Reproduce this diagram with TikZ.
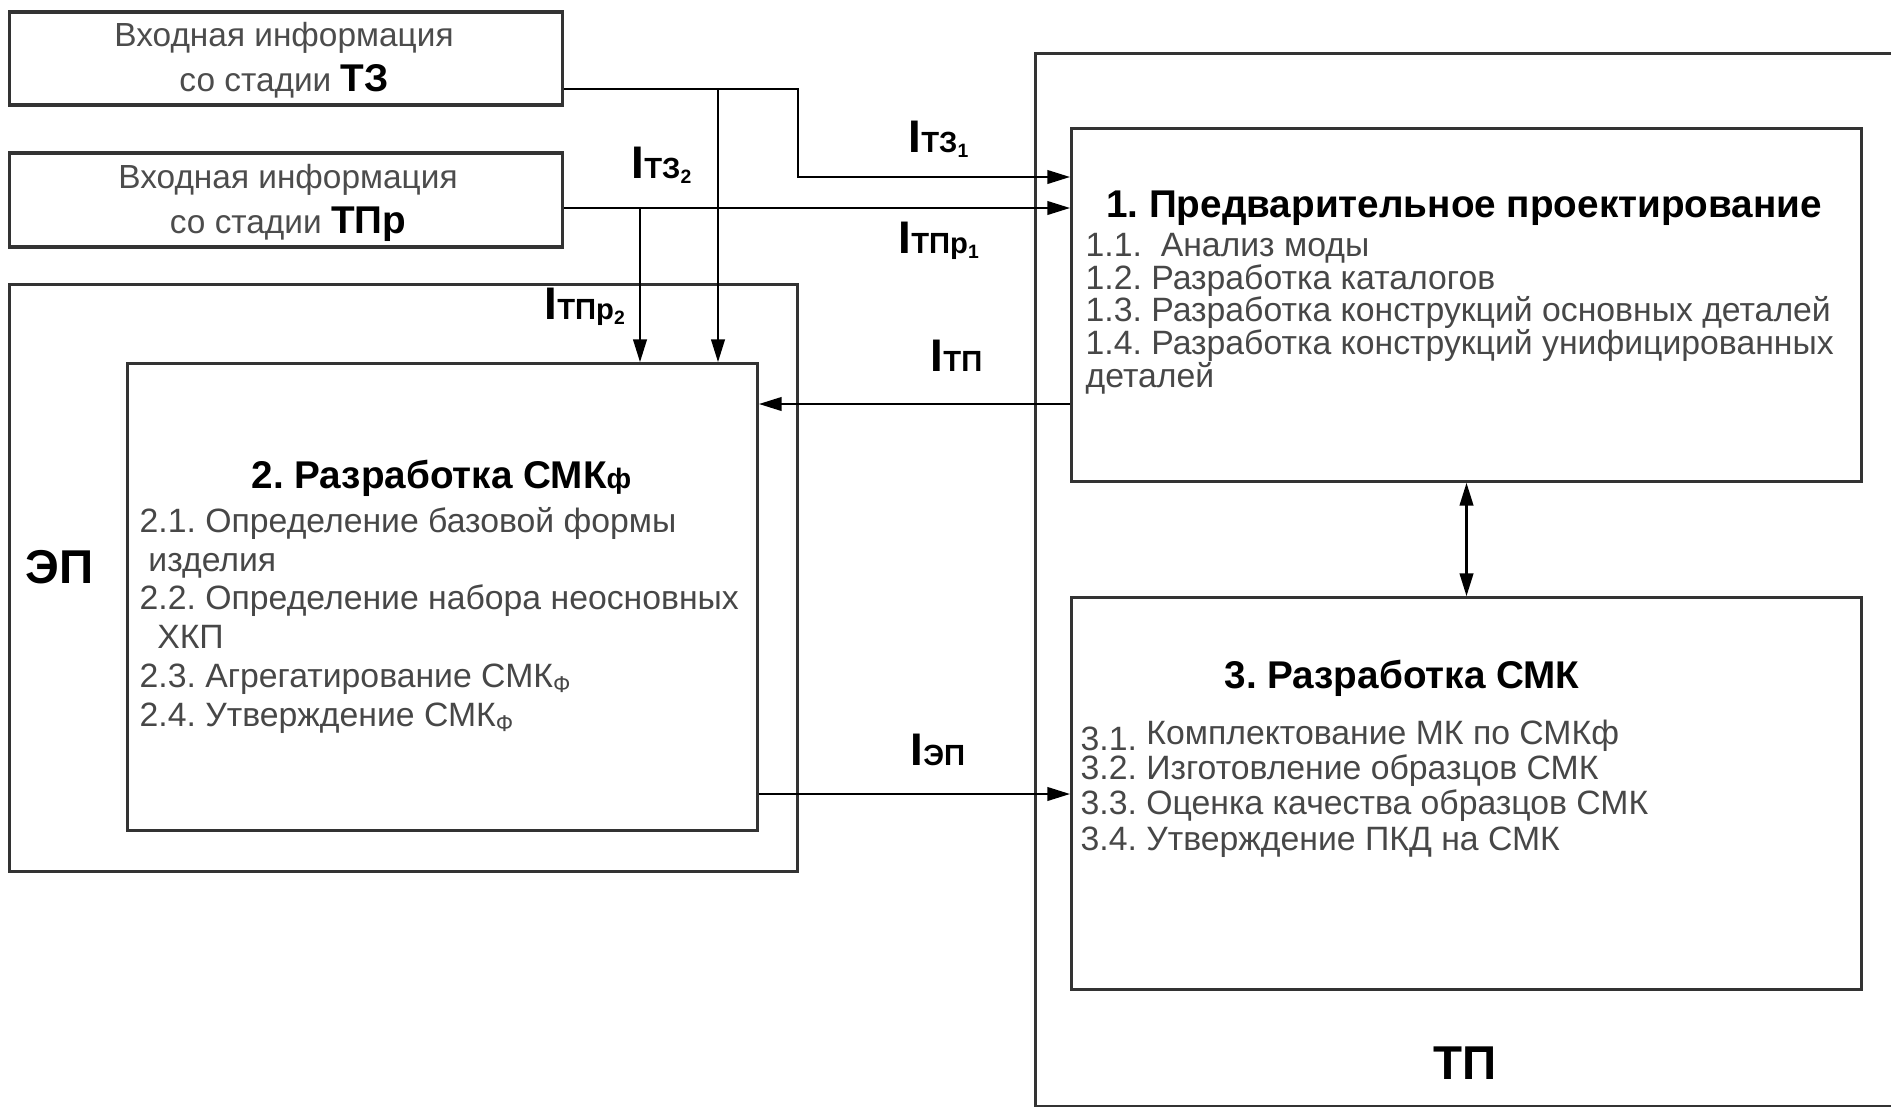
\documentclass[tikz,border=0pt]{standalone}
\usepackage{fontspec}
\setmainfont{Liberation Sans}
\usetikzlibrary{arrows.meta,calc}
\frenchspacing

% information flow label: I with stage index
\newcommand\flowlbl[2]{{\fontsize{13}{13}\selectfont\bfseries I}{\fontsize{8.3}{8.3}\selectfont\bfseries #1}\raisebox{-1.5pt}{\fontsize{5.5}{5.5}\selectfont\bfseries #2}}
\newcommand\smkf{СМК\raisebox{-1.5pt}{\fontsize{6.5}{6.5}\selectfont Ф}}

\begin{document}
\begin{tikzpicture}[x=0.01cm, y=-0.01cm,
    >={Triangle[length=6.5pt, width=3.8pt]},
    box/.style={draw=black!80, line width=0.9pt, inner sep=0pt},
    inbox/.style={box, minimum width=5.52cm, minimum height=0.93cm},
    intext/.style={anchor=base, inner sep=0pt, align=center, text=black!70, font=\fontsize{9.5}{12.7}\selectfont},
    title/.style={anchor=base, inner sep=0pt, font=\fontsize{11}{11}\selectfont\bfseries},
    items/.style={anchor=base west, inner sep=0pt, align=left, text=black!72, font=\fontsize{9.6}{#1}\selectfont},
    stage/.style={anchor=base, inner sep=0pt, font=\fontsize{13.5}{13.5}\selectfont\bfseries},
    lbl/.style={anchor=base west, inner sep=0pt},
    arr/.style={->, line width=0.8pt},
    darr/.style={<->, line width=0.8pt},
]
\useasboundingbox (0,0) rectangle (1891,1106);
\clip (0,0) rectangle (1891,1106);

% --- Input information ---
\node[inbox] (tz) at (286,58.5) {};
\node[intext] (tztext) at (284,91.5) {Входная информация\\со стадии {\fontsize{11}{11}\selectfont\bfseries\color{black}ТЗ}};
\node[inbox, minimum height=0.94cm] (tpr) at (286,200) {};
\node[intext] (tprtext) at (288,233) {Входная информация\\со стадии {\fontsize{11}{11}\selectfont\bfseries\color{black}ТПр}};

% --- ЭП stage ---
\node[box, minimum width=7.87cm, minimum height=5.86cm] (ep) at (403.5,578) {};
\node[stage, anchor=base west] (eplabel) at (25,583) {ЭП};
\node[box, minimum width=6.29cm, minimum height=4.66cm] (smkf) at (442.5,597) {};
\node[title] (smkftitle) at (441.5,488) {2. Разработка СМК{\fontsize{8}{8}\selectfont ф}};
% multi-line nodes sit on their last line
\node[items=11pt] (smkflist) at (139,726) {2.1. Определение базовой формы\\\hspace*{2.5pt}изделия\\2.2. Определение набора неосновных\\\hspace*{5pt}ХКП\\2.3. Агрегатирование \smkf\\2.4. Утверждение \smkf};

% --- ТП stage ---
\node[box, minimum width=9cm, minimum height=10.52cm, anchor=north west] (tp) at (1034,52) {};
\node[stage] (tplabel) at (1465,1079) {ТП};
\node[box, minimum width=7.89cm, minimum height=3.52cm] (prelim) at (1466.5,305) {};
\node[title] (prelimtitle) at (1464,217) {1. Предварительное проектирование};
\node[items=9.25pt] (prelimlist) at (1085,387) {1.1.\ \ Анализ моды\\1.2. Разработка каталогов\\1.3. Разработка конструкций основных деталей\\1.4. Разработка конструкций унифицированных\\деталей};
\node[box, minimum width=7.89cm, minimum height=3.91cm] (smk) at (1466.5,793.5) {};
\node[title] (smktitle) at (1402,688) {3. Разработка СМК};
\node[items=10pt] (smklist) at (1080,850) {\raisebox{-1.6pt}{3.1.} Комплектование МК по СМКф\\3.2. Изготовление образцов СМК\\3.3. Оценка качества образцов СМК\\3.4. Утверждение ПКД на СМК};

% --- Flow labels ---
\node[lbl] (itz1) at (908,152) {\flowlbl{ТЗ}{1}};
\node[lbl] (itz2) at (631,178) {\flowlbl{ТЗ}{2}};
\node[lbl] (itpr1) at (898,253) {\flowlbl{ТПр}{1}};
\node[lbl] (itpr2) at (544,319) {\flowlbl{ТПр}{2}};
\node[lbl] (itp) at (930,371) {\flowlbl{ТП}{}};
\node[lbl] (iep) at (910,765) {\flowlbl{ЭП}{}};

% --- Arrows ---
\coordinate (tzbend) at (798,89);
\coordinate (tzsplit) at (718,89);
\coordinate (tzin) at (798,177);
\coordinate (tprsplit) at (640,208);
\coordinate (tplink) at (prelim.west |- 0,404);
\coordinate (eplink) at (smkf.east |- 0,794);

\draw[arr] (tz.east |- tzbend) -- (tzbend) -- (tzin) -- (tzin -| prelim.west);
\draw[arr] (tzsplit) -- (tzsplit |- smkf.north);
\draw[arr] (tpr.east |- tprsplit) -- (tprsplit -| prelim.west);
\draw[arr] (tprsplit) -- (tprsplit |- smkf.north);
\draw[arr] (tplink) -- (tplink -| smkf.east);
\draw[arr] (eplink) -- (eplink -| smk.west);
\draw[darr] (prelim.south) -- (smk.north);

\end{tikzpicture}
\end{document}
